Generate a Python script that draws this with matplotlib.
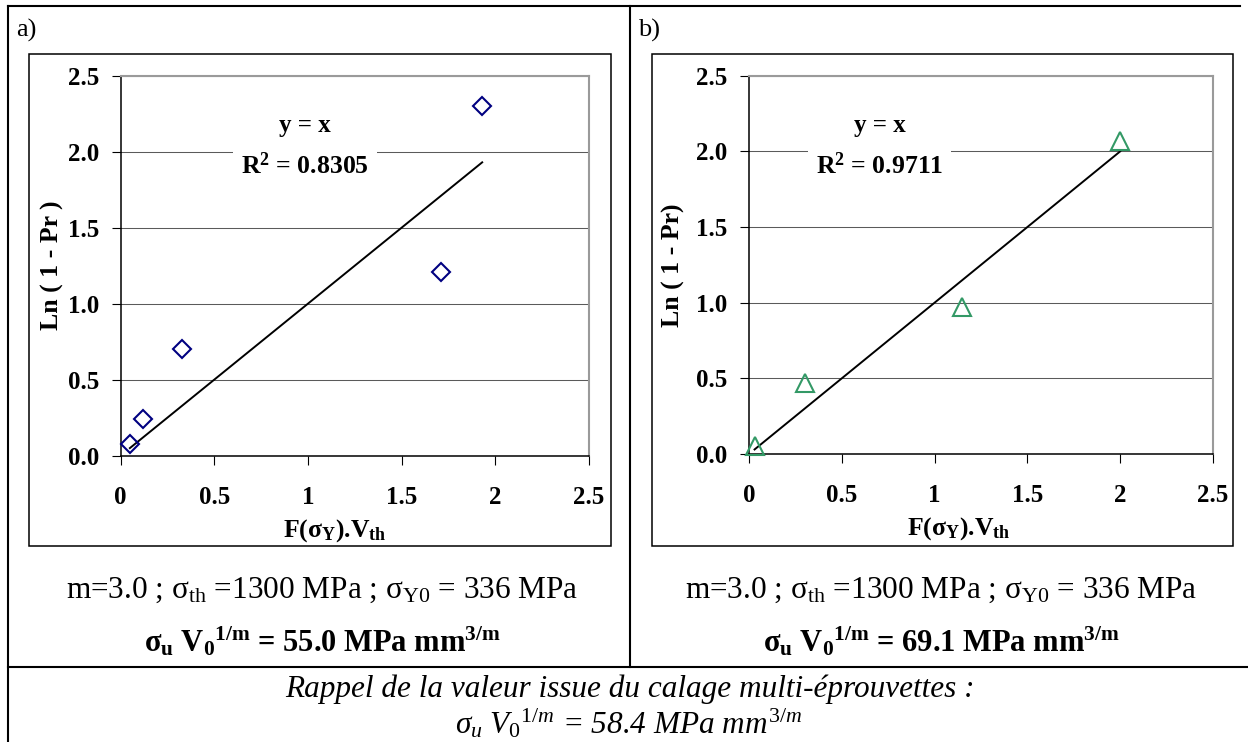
import matplotlib
matplotlib.use("Agg")
import matplotlib.pyplot as plt
from matplotlib.patches import Rectangle

plt.rcParams.update({
    "font.family": ["Liberation Serif", "DejaVu Serif"],
    "mathtext.fontset": "custom",
    "mathtext.rm": "Liberation Serif",
    "mathtext.it": "Liberation Serif:italic",
    "mathtext.bf": "Liberation Serif:bold",
})

# data
a_x = [0.05, 0.12, 0.33, 1.71, 1.93]
a_y = [0.08, 0.24, 0.70, 1.21, 2.30]
b_x = [0.03, 0.30, 1.15, 2.00]
b_y = [0.05, 0.47, 0.97, 2.07]
r2_values = ["0.8305", "0.9711"]
sigma_u = ["55.0", "69.1"]
sigma_ref = "58.4"

x_ticks = [0, 0.5, 1, 1.5, 2, 2.5]
x_labels = ["0", "0.5", "1", "1.5", "2", "2.5"]
y_ticks = [0.0, 0.5, 1.0, 1.5, 2.0, 2.5]
y_labels = ["0.0", "0.5", "1.0", "1.5", "2.0", "2.5"]

W, H = 1248, 742
fig = plt.figure(figsize=(W / 100, H / 100), dpi=100)

# background layer in pixel units for the table frame and captions
bg = fig.add_axes([0, 0, 1, 1])
bg.set_xlim(0, W)
bg.set_ylim(H, 0)
bg.axis("off")

lw_table = 1.5
bg.plot([7.5, 1240], [5.7, 5.7], color="black", lw=lw_table)
bg.plot([7.5, 7.5], [5.7, H], color="black", lw=lw_table)
bg.plot([630, 630], [5.7, 667], color="black", lw=lw_table)
bg.plot([7.5, W], [667, 667], color="black", lw=lw_table)

# chart frames
bg.add_patch(Rectangle((29, 54), 582, 492, fill=False, ec="black", lw=1.1))
bg.add_patch(Rectangle((652, 54), 581, 492, fill=False, ec="black", lw=1.1))

bg.text(16, 30, "a)", fontsize=19, ha="left", va="center")
bg.text(638, 30, "b)", fontsize=19, ha="left", va="center")


def panel(box, xs, ys, marker, ms, color, r2, ylabel, txt_x, ylab_x, xlab_x):
    left, top, right, bottom = box
    ax = fig.add_axes([left / W, 1 - bottom / H, (right - left) / W, (bottom - top) / H])
    ax.set_xlim(0, 2.5)
    ax.set_ylim(0, 2.5)
    ax.set_xticks(x_ticks, x_labels, fontweight="bold", fontsize=18)
    ax.set_yticks(y_ticks, y_labels, fontweight="bold", fontsize=18)
    ax.tick_params(axis="x", direction="out", length=6.5, width=0.8, pad=15)
    ax.tick_params(axis="y", direction="out", length=6.5, width=0.8, pad=9)
    ax.yaxis.grid(True, color="#5a5a5a", lw=0.75)
    ax.set_axisbelow(True)
    for s in ("left", "bottom"):
        ax.spines[s].set_color("black")
        ax.spines[s].set_linewidth(1.1)
    for s in ("top", "right"):
        ax.spines[s].set_color("#9a9a9a")
        ax.spines[s].set_linewidth(1.5)

    # fitted line y = x over the data range
    x0, x1 = min(xs), max(xs)
    ax.plot([x0, x1], [x0, x1], color="black", lw=1.4, zorder=3)
    ax.plot(xs, ys, linestyle="none", marker=marker, ms=ms, mfc="none",
            mec=color, mew=1.5, clip_on=False, zorder=4)

    ax.text(txt_x, 0.852, "y = x", transform=ax.transAxes, ha="center",
            va="baseline", fontsize=18, fontweight="bold", zorder=5)
    ax.text(txt_x, 0.7405, r"R$^{\mathbf{2}}$ = " + r2, transform=ax.transAxes,
            ha="center", va="baseline", fontsize=18.5, fontweight="bold",
            bbox=dict(boxstyle="square,pad=0.3", fc="white", ec="none"), zorder=5)

    ax.set_ylabel(ylabel, fontsize=18.5, fontweight="bold")
    ax.yaxis.set_label_coords(ylab_x, 0.5)
    ax.set_xlabel(r"F($\mathbf{\sigma_Y}$).V$_{\mathbf{th}}$", fontsize=18.5,
                  fontweight="bold")
    ax.xaxis.set_label_coords(xlab_x, -0.196)
    ax.xaxis.label.set_va("center")
    return ax


panel((120.5, 75.7, 589, 455.7), a_x, a_y, "D", 9, "#000080", r2_values[0],
      "Ln ( 1 - Pr )", 0.394, -0.121, 0.458)
panel((749, 75.7, 1213, 454), b_x, b_y, "^", 13.5, "#339966", r2_values[1],
      "Ln ( 1 - Pr)", 0.282, -0.137, 0.4526)

params = (r"m=3.0 ; $\mathrm{\sigma_{th}}$ =1300 MPa ; "
          r"$\mathrm{\sigma_{Y0}}$ = 336 MPa")
for cx, val in zip([322, 941], sigma_u):
    bg.text(cx, 598, params, fontsize=22.5, ha="center", va="baseline")
    bg.text(cx, 652, r"$\mathbf{\sigma_u\ V_0{}^{1/m}}$ = " + val
            + r" MPa mm$^{\mathbf{3/m}}$",
            fontsize=22, fontweight="bold", ha="center", va="baseline")

bg.text(630, 697, "Rappel de la valeur issue du calage multi-éprouvettes :",
        fontsize=22.5, style="italic", ha="center", va="baseline")
bg.text(628, 734, r"$\mathit{\sigma_u\ V_0{}^{1/m}}$ = " + sigma_ref
        + r" $\mathit{MPa\ mm^{3/m}}$",
        fontsize=22.5, style="italic", ha="center", va="baseline")

fig.savefig("out.png", dpi=100)
